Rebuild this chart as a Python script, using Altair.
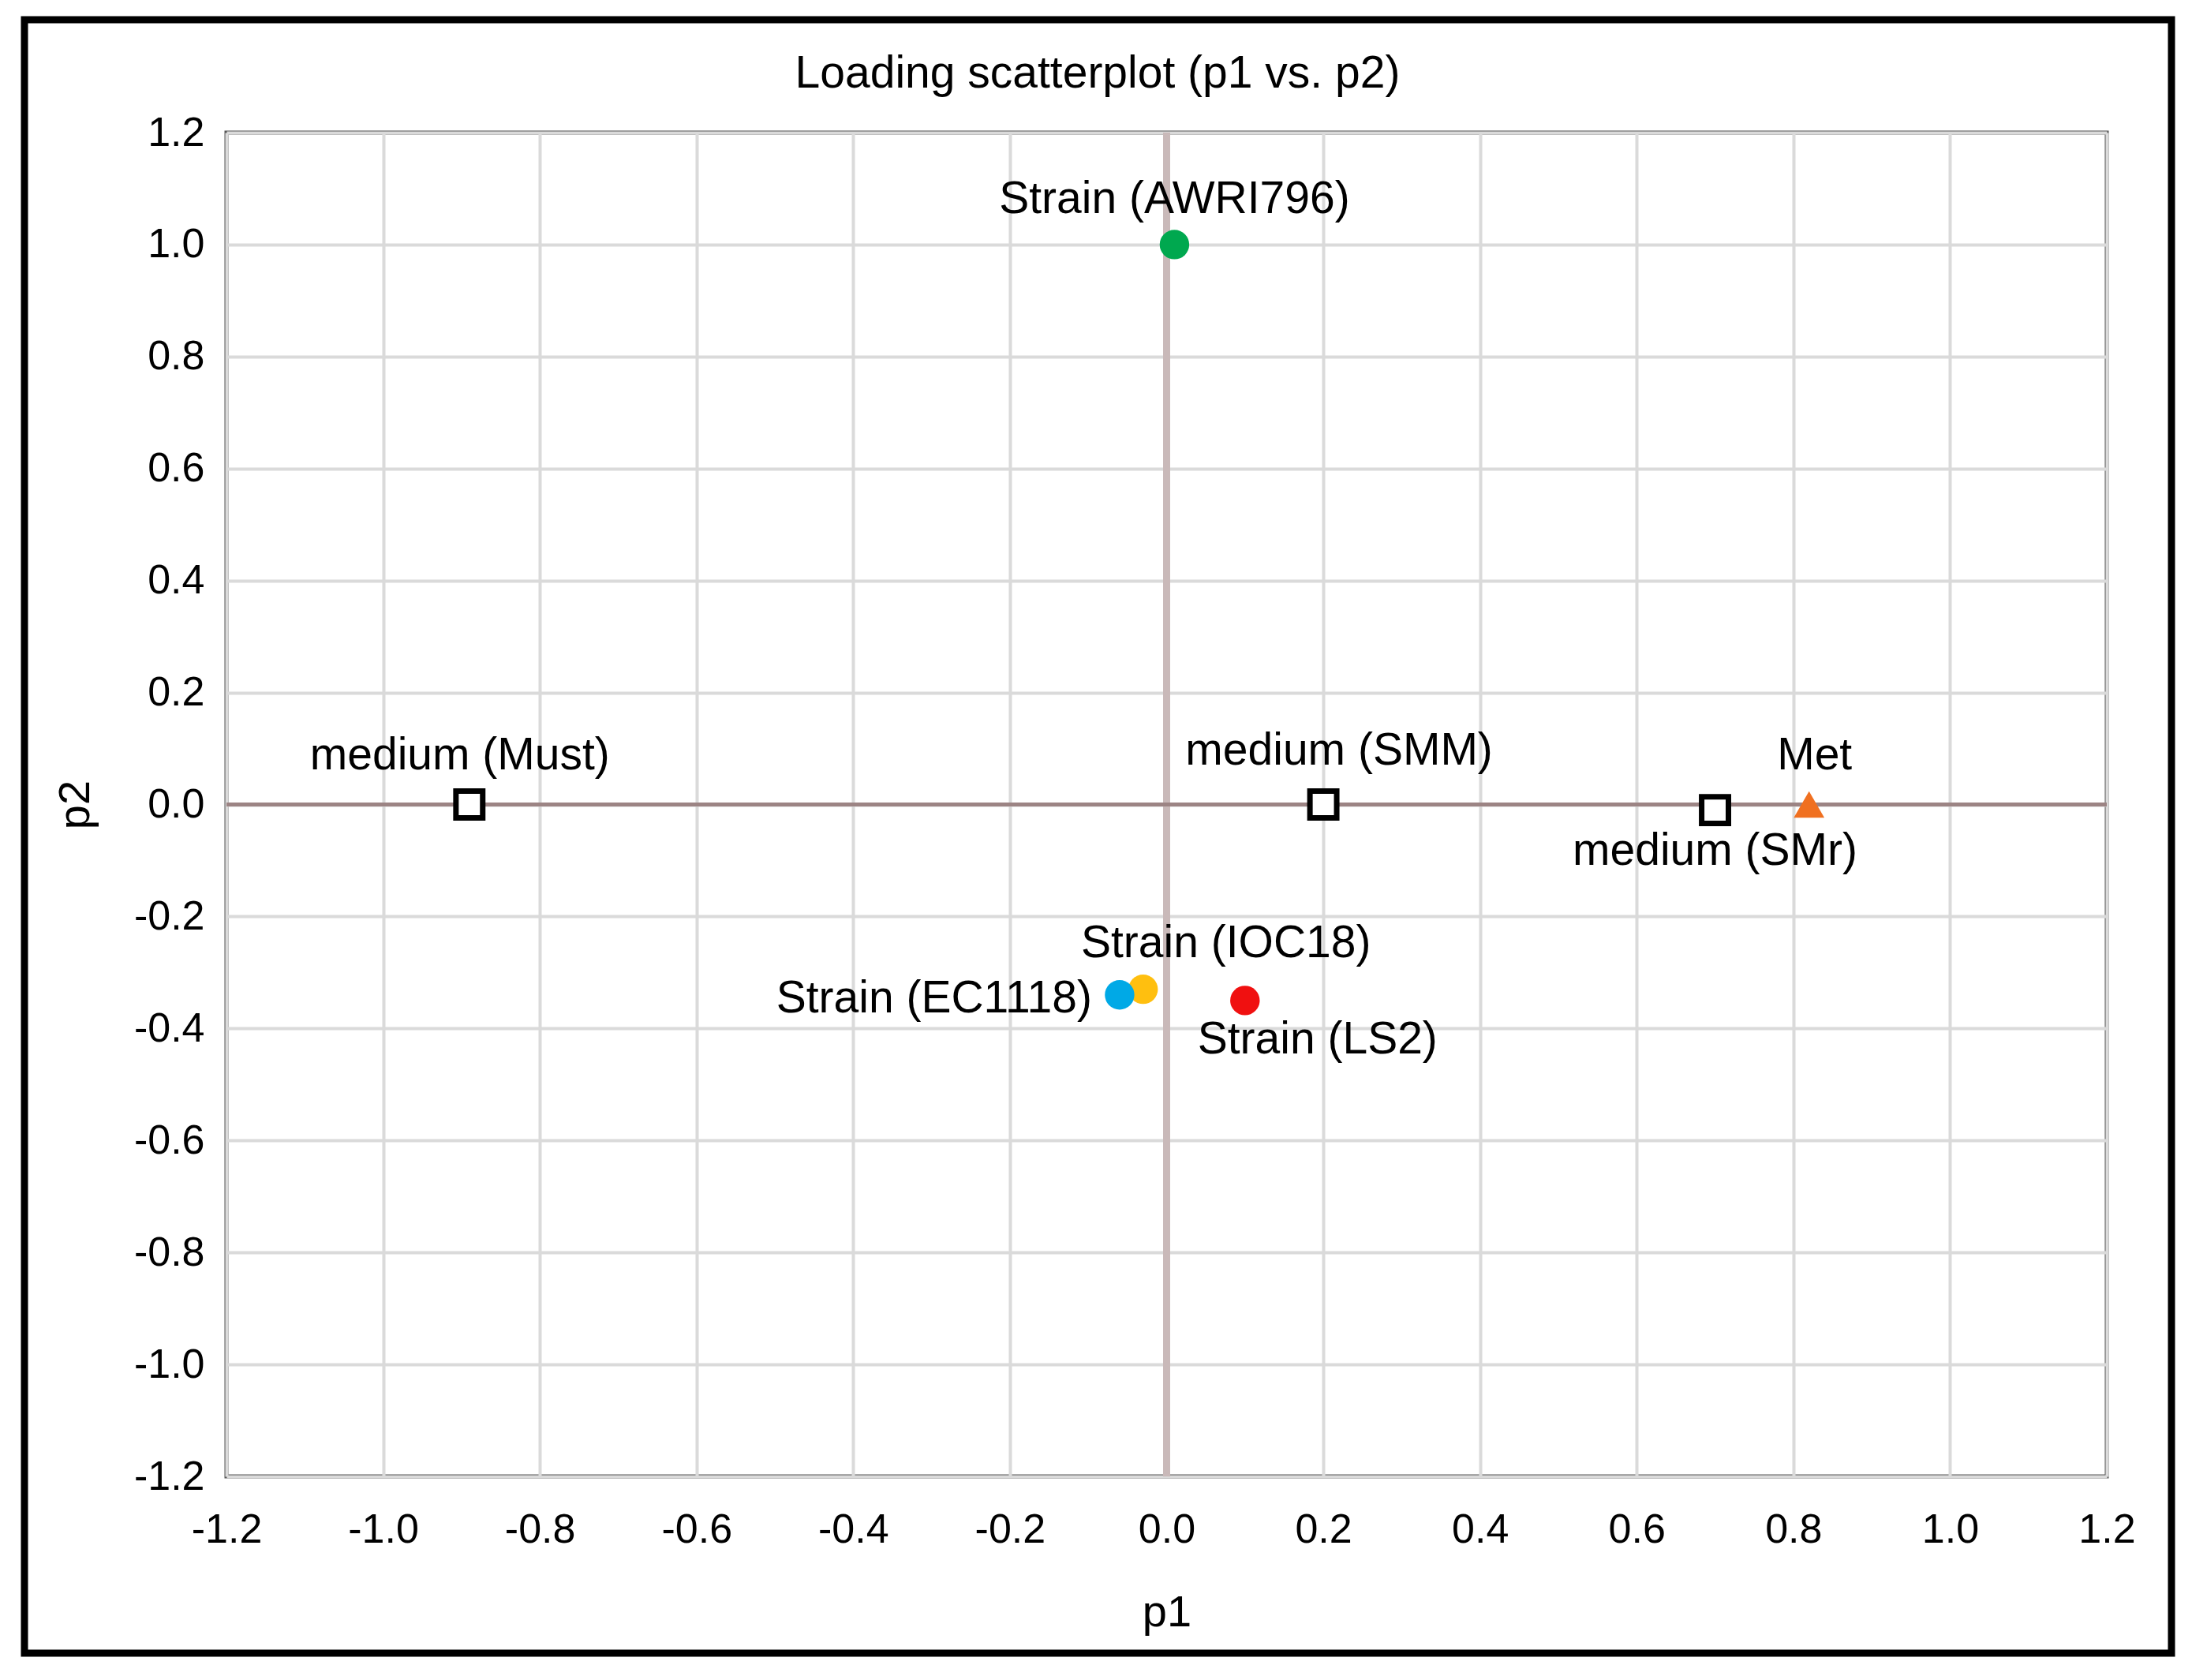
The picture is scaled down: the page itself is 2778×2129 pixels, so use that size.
import altair as alt
import pandas as pd

# ---- data ----
names = ["Strain (AWRI796)", "medium (Must)", "medium (SMM)", "medium (SMr)",
         "Met", "Strain (IOC18)", "Strain (EC1118)", "Strain (LS2)"]
p1 = [0.01, -0.89, 0.20, 0.70, 0.82, -0.03, -0.06, 0.10]
p2 = [1.00, 0.00, 0.00, -0.01, 0.00, -0.33, -0.34, -0.35]
kind = ["strain", "medium", "medium", "medium", "met", "strain", "strain", "strain"]
tick_values = [-1.2, -1.0, -0.8, -0.6, -0.4, -0.2, 0.0, 0.2, 0.4, 0.6, 0.8, 1.0, 1.2]
title_text = "Loading scatterplot (p1 vs. p2)"

df = pd.DataFrame({"name": names, "p1": p1, "p2": p2, "kind": kind})

FONT = "Liberation Sans"
W, H = 2383, 1703

strain_names = ["Strain (AWRI796)", "Strain (IOC18)", "Strain (EC1118)", "Strain (LS2)"]
strain_colors = ["#00a84f", "#ffbf0f", "#00a9e6", "#f01010"]

lab_expr = "replace(format(datum.value, '.1f'), '\u2212', '-')"
xscale = alt.Scale(domain=[-1.2, 1.2], nice=False, zero=False)
yscale = alt.Scale(domain=[-1.2, 1.2], nice=False, zero=False)

X = alt.X("p1:Q", scale=xscale, title="p1",
          axis=alt.Axis(values=tick_values, labelExpr=lab_expr, labelPadding=42,
                        titlePadding=52, labelFlush=False, labelOverlap=False))
Y = alt.Y("p2:Q", scale=yscale, title="p2",
          axis=alt.Axis(values=tick_values, labelExpr=lab_expr, labelPadding=28,
                        titlePadding=45, labelFlush=False, labelOverlap=False))

base = alt.Chart(df)

axes_layer = base.mark_point(opacity=0).encode(x=X, y=Y)

vzero = alt.Chart(alt.Data(values=[{"v": 0}])).mark_rule(
    color="#c9b9b9", strokeWidth=9).encode(x=alt.X("v:Q", scale=xscale))
hzero = alt.Chart(alt.Data(values=[{"v": 0}])).mark_rule(
    color="#9c8484", strokeWidth=5).encode(y=alt.Y("v:Q", scale=yscale))

squares = base.transform_filter(alt.datum.kind == "medium").mark_point(
    shape="square", size=1150, filled=False, stroke="black", strokeWidth=7,
    fill="white", fillOpacity=1, opacity=1).encode(x="p1:Q", y="p2:Q")

triangle = base.transform_filter(alt.datum.kind == "met").mark_point(
    shape="triangle-up", size=1500, filled=True, color="#f07020", opacity=1
).encode(x="p1:Q", y="p2:Q")

circles = base.transform_filter(alt.datum.kind == "strain").mark_circle(
    size=1400, opacity=1).encode(
    x="p1:Q", y="p2:Q",
    color=alt.Color("name:N", scale=alt.Scale(domain=strain_names, range=strain_colors),
                    legend=None))

# label placement (dx, dy, align) per point
placement = {
    "Strain (AWRI796)": (0, -57, "center"),
    "medium (Must)": (-12, -62, "center"),
    "medium (SMM)": (20, -68, "center"),
    "medium (SMr)": (0, 52, "center"),
    "Met": (7, -62, "center"),
    "Strain (IOC18)": (105, -58, "center"),
    "Strain (EC1118)": (-35, 5, "right"),
    "Strain (LS2)": (92, 50, "center"),
}
texts = []
for nm, (dx, dy, al) in placement.items():
    texts.append(
        base.transform_filter(alt.datum.name == nm).mark_text(
            dx=dx, dy=dy, align=al, baseline="middle", font=FONT, fontSize=57,
            color="black").encode(x="p1:Q", y="p2:Q", text="name:N"))

title_layer = alt.Chart(alt.Data(values=[{"t": title_text}])).mark_text(
    font=FONT, fontSize=57, color="black", align="center", baseline="middle"
).encode(x=alt.value(1104), y=alt.value(-74), text="t:N")

frame = alt.Chart(alt.Data(values=[{"a": 1}])).mark_rect(
    fillOpacity=0, stroke="black", strokeWidth=9, clip=False).encode(
    x=alt.value(-256), x2=alt.value(2465), y=alt.value(-143), y2=alt.value(1927))

chart = alt.layer(axes_layer, vzero, hzero, squares, triangle, circles, *texts,
                  title_layer, frame).properties(
    width=W, height=H,
    background="white",
    autosize=alt.AutoSizeParams(type="none"),
    padding={"left": 279, "top": 160, "right": 100, "bottom": 240},
).configure_view(
    stroke="#555555", strokeWidth=5
).configure_axis(
    labelFont=FONT, labelFontSize=52, labelColor="black",
    titleFont=FONT, titleFontSize=56, titleFontWeight="normal", titleColor="black",
    grid=True, gridColor="#dadada", gridWidth=4, domain=False, ticks=False,
)

chart.save("out.html", embed_options={"renderer": "svg", "actions": False})
